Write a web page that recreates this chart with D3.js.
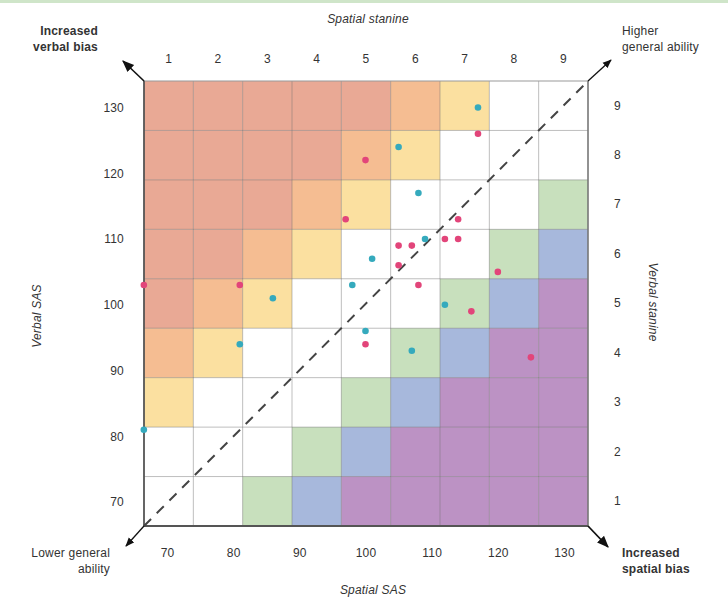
<!DOCTYPE html>
<html><head><meta charset="utf-8">
<script src="https://cdn.jsdelivr.net/npm/d3@7"></script>
<style>
html,body{margin:0;padding:0;background:#fff;}
svg{display:block;font-family:"Liberation Sans",Arial,sans-serif;}
</style></head>
<body>
<svg id="chart" width="728" height="598"></svg>
<script>
// ---------- DATA ----------
const stanines = [1,2,3,4,5,6,7,8,9];
const sasTicks = [70,80,90,100,110,120,130];
// band of each cell: rows = verbal stanine 9 (top) .. 1 (bottom), cols = spatial stanine 1..9
// S = strong verbal bias, O = verbal bias, Y = mild verbal bias, W = even, G = mild spatial, B = spatial, P = strong spatial
const cellBands = [
  "SSSSSOYWW", // 9
  "SSSSOYWWW", // 8
  "SSSOYWWWG", // 7
  "SSOYWWWGB", // 6
  "SOYWWWGBP", // 5
  "OYWWWGBPP", // 4
  "YWWWGBPPP", // 3
  "WWWGBPPPP", // 2
  "WWGBPPPPP"  // 1
];
const bandColors = {S:"#e9a995",O:"#f5bd92",Y:"#fbe0a0",W:"#ffffff",G:"#c8e0bd",B:"#a7b8dc",P:"#bc92c4"};
// pupils: spatial SAS, verbal SAS
const tealSpatial = [117,105,108,109,101,98,86,112,100,81,107,66.5];
const tealVerbal  = [130,124,117,110,107,103,101,100,96,94,93,81];
const redSpatial  = [117,100,97,114,112,114,105,107,105,108,120,116,100,125,81,66.5];
const redVerbal   = [126,122,113,113,110,110,109,109,106,103,105,99,94,92,103,103];

// ---------- LAYOUT ----------
const svg = d3.select("#chart");
const L = 144, R = 588, T = 81, B = 526;
const FS = 12, LS = "0.2px", FF = "Liberation Sans, Arial, sans-serif";

svg.append("rect").attr("x",0).attr("y",0).attr("width",728).attr("height",3).attr("fill","#cfe5c9");

const xBand = d3.scaleBand().domain(stanines).range([L,R]);
const yBand = d3.scaleBand().domain(stanines.slice().reverse()).range([T,B]);
const xSAS = d3.scaleLinear().domain([70,130]).range([167,564]);
const ySAS = d3.scaleLinear().domain([70,130]).range([502,107.5]);

// cells
const cells = [];
cellBands.forEach((row,i)=>{
  const v = 9 - i;
  row.split("").forEach((c,j)=>cells.push({s:stanines[j], v:v, band:c}));
});
svg.append("g").selectAll("rect").data(cells).join("rect")
  .attr("x",d=>xBand(d.s)).attr("y",d=>yBand(d.v))
  .attr("width",xBand.bandwidth()).attr("height",yBand.bandwidth())
  .attr("fill",d=>bandColors[d.band]);

// grid lines
const grid = svg.append("g").attr("stroke","rgba(110,110,110,0.45)").attr("stroke-width",1);
stanines.slice(1).forEach(s=>{
  grid.append("line").attr("x1",xBand(s)).attr("x2",xBand(s)).attr("y1",T).attr("y2",B);
  grid.append("line").attr("y1",yBand(s)+yBand.bandwidth()).attr("y2",yBand(s)+yBand.bandwidth()).attr("x1",L).attr("x2",R);
});

// frame
svg.append("line").attr("x1",L).attr("x2",R).attr("y1",T).attr("y2",T).attr("stroke","#999").attr("stroke-width",1.2);
svg.append("line").attr("x1",R).attr("x2",R).attr("y1",T).attr("y2",B).attr("stroke","#777").attr("stroke-width",1.6);
svg.append("line").attr("x1",L).attr("x2",L).attr("y1",T).attr("y2",B).attr("stroke","#555").attr("stroke-width",1.8);
svg.append("line").attr("x1",L).attr("x2",R).attr("y1",B).attr("y2",B).attr("stroke","#555").attr("stroke-width",1.8);

// diagonal dashed line
svg.append("line").attr("x1",L).attr("y1",B).attr("x2",R).attr("y2",T)
  .attr("stroke","#444").attr("stroke-width",2).attr("stroke-dasharray","10,8");

// arrows
const defs = svg.append("defs");
function marker(id,size){
  defs.append("marker").attr("id",id).attr("viewBox","0 0 10 10").attr("refX",9).attr("refY",5)
    .attr("markerWidth",size).attr("markerHeight",size).attr("orient","auto").attr("markerUnits","userSpaceOnUse")
    .append("path").attr("d","M0,1 L10,5 L0,9 Z").attr("fill","#111");
}
marker("ah",9); marker("ahBig",12);
const arrows = [
  {x1:L,y1:T,x2:123,y2:61,m:"ahBig",w:1.6},
  {x1:R,y1:T,x2:611,y2:60,m:"ah",w:1.3},
  {x1:L,y1:B,x2:126,y2:546,m:"ah",w:1.3},
  {x1:R,y1:B,x2:608,y2:547,m:"ahBig",w:1.8}
];
svg.append("g").selectAll("line").data(arrows).join("line")
  .attr("x1",d=>d.x1).attr("y1",d=>d.y1).attr("x2",d=>d.x2).attr("y2",d=>d.y2)
  .attr("stroke","#111").attr("stroke-width",d=>d.w).attr("marker-end",d=>`url(#${d.m})`);

// points
const teal = tealSpatial.map((s,i)=>({s:s,v:tealVerbal[i]}));
const red = redSpatial.map((s,i)=>({s:s,v:redVerbal[i]}));
svg.append("g").selectAll("circle").data(red).join("circle")
  .attr("cx",d=>xSAS(d.s)).attr("cy",d=>ySAS(d.v)).attr("r",3.3).attr("fill","#e2457a");
svg.append("g").selectAll("circle").data(teal).join("circle")
  .attr("cx",d=>xSAS(d.s)).attr("cy",d=>ySAS(d.v)).attr("r",3.3).attr("fill","#35aabd");

function styleTicks(g){
  g.select(".domain").remove();
  g.selectAll("text").attr("font-size",FS).attr("fill","#333").attr("font-family",FF).attr("letter-spacing",LS);
}
// bottom SAS
const gx = svg.append("g").attr("transform",`translate(0,553)`)
  .call(d3.axisBottom(xSAS).tickValues(sasTicks).tickSize(0).tickPadding(0));
styleTicks(gx); gx.selectAll("text").attr("dy","0.35em");
// left SAS
const gy = svg.append("g").attr("transform",`translate(124,0)`)
  .call(d3.axisLeft(ySAS).tickValues(sasTicks).tickSize(0).tickPadding(0));
styleTicks(gy);
// top stanine
const gt = svg.append("g").attr("transform",`translate(0,59)`)
  .call(d3.axisTop(xBand).tickSize(0).tickPadding(0));
styleTicks(gt); gt.selectAll("text").attr("dy","0.35em");
// right stanine
const gr = svg.append("g").attr("transform",`translate(614,0)`)
  .call(d3.axisRight(yBand).tickSize(0).tickPadding(0));
styleTicks(gr);

// titles
const txt = svg.append("g").attr("fill","#333").attr("font-size",FS).attr("letter-spacing",LS);
txt.append("text").attr("x",368).attr("y",19).attr("dy","0.35em").attr("text-anchor","middle").attr("font-style","italic").text("Spatial stanine");
txt.append("text").attr("x",373).attr("y",590).attr("dy","0.35em").attr("text-anchor","middle").attr("font-style","italic").text("Spatial SAS");
txt.append("text").attr("transform","translate(37,316) rotate(-90)").attr("dy","0.35em").attr("text-anchor","middle").attr("font-style","italic").text("Verbal SAS");
txt.append("text").attr("transform","translate(653,302) rotate(90)").attr("dy","0.35em").attr("text-anchor","middle").attr("font-style","italic").text("Verbal stanine");

// corner labels
function corner(lines,x,y,anchor,weight){
  const t = txt.append("text").attr("x",x).attr("y",y).attr("text-anchor",anchor).attr("font-weight",weight);
  lines.forEach((l,i)=>t.append("tspan").attr("x",x).attr("dy",i===0?"0.35em":"1.35em").text(l));
}
corner(["Increased","verbal bias"],98,31,"end","bold");
corner(["Higher","general ability"],622,31,"start","normal");
corner(["Lower general","ability"],110,553,"end","normal");
corner(["Increased","spatial bias"],622,553,"start","bold");
</script>
</body></html>
